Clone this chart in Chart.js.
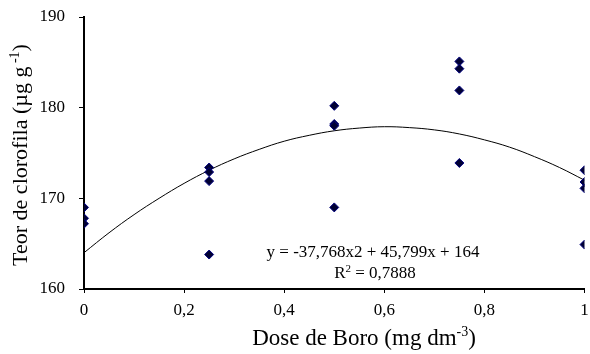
<!DOCTYPE html>
<html>
<head>
<meta charset="utf-8">
<script src="https://cdn.jsdelivr.net/npm/chart.js@4/dist/chart.umd.min.js"></script>
<style>
  html, body { margin: 0; padding: 0; background: #fff; }
  #wrap { width: 590px; height: 354px; }
</style>
</head>
<body>
<div id="wrap"><canvas id="chart" width="590" height="354"></canvas></div>
<script>
// observed values (dose, chlorophyll)
const doseX = [0, 0, 0, 0.25, 0.25, 0.25, 0.25, 0.5, 0.5, 0.5, 0.5, 0.75, 0.75, 0.75, 0.75, 1, 1, 1, 1];
const teorY = [169.0, 167.8, 167.2, 173.4, 172.9, 171.9, 163.8, 180.2, 178.2, 178.0, 169.0, 185.1, 184.3, 181.9, 173.9, 173.1, 171.8, 171.1, 164.9];

// trend line
const trendX = [0, 0.05, 0.1, 0.15, 0.2, 0.25, 0.3, 0.35, 0.4, 0.45, 0.5, 0.55, 0.6, 0.65, 0.7, 0.75, 0.8, 0.85, 0.9, 0.95, 1];
const trendY = [164.0, 166.2, 168.2, 170.0, 171.65, 173.1, 174.35, 175.4, 176.3, 176.95, 177.45, 177.75, 177.9, 177.8, 177.55, 177.1, 176.45, 175.65, 174.6, 173.4, 172.0];

const xTicks = ['0', '0,2', '0,4', '0,6', '0,8', '1'];
const yTicks = [160, 170, 180, 190];

const serif = '"Liberation Serif", "Times New Roman", serif';

// draws text with superscript parts: [[text, sup?], ...], centred on x
function drawRich(ctx, parts, x, y, size) {
    const supSize = Math.round(size * 0.62);
    let total = 0;
    parts.forEach(p => {
        ctx.font = (p[1] ? supSize : size) + 'px ' + serif;
        total += ctx.measureText(p[0]).width;
    });
    ctx.textAlign = 'left';
    ctx.textBaseline = 'alphabetic';
    let cx = x - total / 2;
    parts.forEach(p => {
        ctx.font = (p[1] ? supSize : size) + 'px ' + serif;
        ctx.fillText(p[0], cx, p[1] ? y - size * 0.38 : y);
        cx += ctx.measureText(p[0]).width;
    });
}

const labelsPlugin = {
    id: 'labels',
    afterDraw(chart) {
        const ctx = chart.ctx;
        ctx.save();
        ctx.fillStyle = '#000';
        // x title
        drawRich(ctx, [['Dose de Boro (mg dm', false], ['-3', true], [')', false]], 364, 345, 23);
        // y title
        ctx.save();
        ctx.translate(27, 155);
        ctx.rotate(-Math.PI / 2);
        drawRich(ctx, [['Teor de clorofila (µg g', false], [' -1', true], [')', false]], 0, 0, 22);
        ctx.restore();
        // equation
        drawRich(ctx, [['y = -37,768x2 + 45,799x + 164', false]], 373, 257, 17);
        drawRich(ctx, [['R', false], ['2', true], [' = 0,7888', false]], 375, 278, 17);
        ctx.restore();
    }
};

const ctx = document.getElementById('chart').getContext('2d');
new Chart(ctx, {
    type: 'scatter',
    data: {
        datasets: [{
            label: 'Teor',
            data: doseX.map((x, i) => ({ x: x, y: teorY[i] })),
            pointStyle: 'rectRot',
            pointRadius: 4.5,
            backgroundColor: '#000033',
            borderColor: '#000080',
            borderWidth: 1,
            order: 1
        }, {
            label: 'Tendência',
            type: 'line',
            data: trendX.map((x, i) => ({ x: x, y: trendY[i] })),
            borderColor: '#000',
            borderWidth: 1,
            pointRadius: 0,
            tension: 0.4,
            fill: false,
            order: 2
        }]
    },
    options: {
        responsive: false,
        animation: false,
        layout: { padding: { left: 0, right: 3, top: 17, bottom: 0 } },
        plugins: { legend: { display: false }, tooltip: { enabled: false } },
        scales: {
            x: {
                type: 'linear',
                min: 0,
                max: 1,
                afterFit: s => { s.height = 65; s.paddingLeft = 0; s.paddingRight = 0; },
                afterBuildTicks: s => { s.ticks = xTicks.map((t, i) => ({ value: i * 0.2 })); },
                border: { color: '#000', width: 2 },
                grid: { drawOnChartArea: false, drawTicks: true, tickLength: 4, color: '#000', lineWidth: 1 },
                ticks: {
                    padding: 7,
                    color: '#000',
                    font: { family: serif, size: 17 },
                    maxRotation: 0,
                    callback: (v, i) => xTicks[i]
                }
            },
            y: {
                min: 160,
                max: 190,
                afterFit: s => { s.width = 84; s.paddingTop = 0; s.paddingBottom = 0; },
                afterBuildTicks: s => { s.ticks = yTicks.map(v => ({ value: v })); },
                border: { color: '#000', width: 2 },
                grid: { drawOnChartArea: false, drawTicks: true, tickLength: 5, color: '#000', lineWidth: 1 },
                ticks: {
                    padding: 14,
                    color: '#000',
                    font: { family: serif, size: 17 }
                }
            }
        }
    },
    plugins: [labelsPlugin]
});
</script>
</body>
</html>
